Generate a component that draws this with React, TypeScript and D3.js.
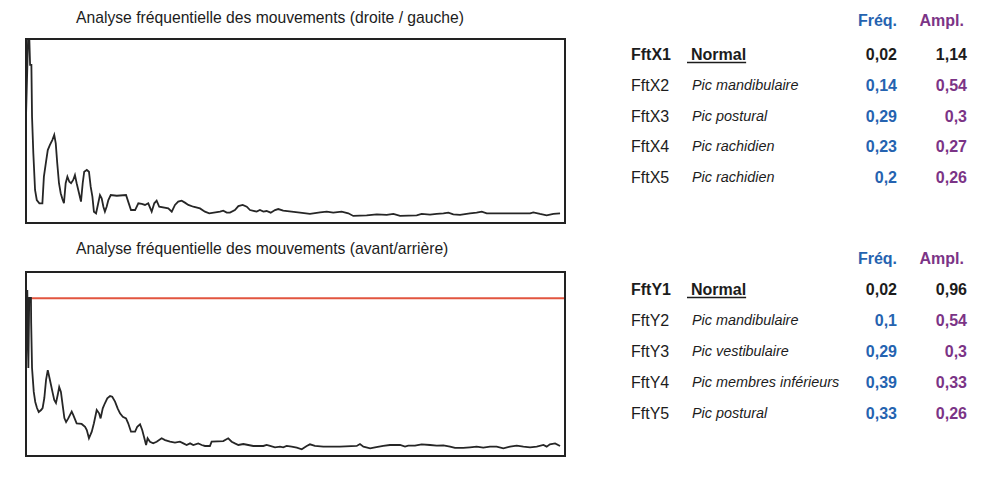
import * as d3 from 'd3';
import { useEffect, useRef } from 'react';

// FFT spectrum, left/right (X)
const freqX = [0, 0.01, 0.015, 0.019, 0.025, 0.028, 0.034, 0.042, 0.05, 0.062, 0.076, 0.083, 0.093, 0.101, 0.111, 0.122, 0.131, 0.138, 0.145, 0.153, 0.161, 0.168, 0.176, 0.184, 0.192, 0.201, 0.209, 0.219, 0.227, 0.235, 0.246, 0.255, 0.263, 0.27, 0.282, 0.292, 0.3, 0.308, 0.315, 0.325, 0.335, 0.343, 0.351, 0.359, 0.366, 0.374, 0.382, 0.393, 0.421, 0.464, 0.474, 0.487, 0.506, 0.521, 0.537, 0.552, 0.567, 0.583, 0.595, 0.606, 0.618, 0.66, 0.676, 0.691, 0.706, 0.722, 0.737, 0.753, 0.776, 0.807, 0.83, 0.85, 0.9, 0.915, 0.931, 0.946, 0.969, 0.985, 1.005, 1.024, 1.039, 1.07, 1.085, 1.101, 1.116, 1.135, 1.155, 1.17, 1.193, 1.271, 1.317, 1.364, 1.395, 1.425, 1.464, 1.495, 1.518, 1.58, 1.627, 1.673, 1.704, 1.735, 1.812, 1.835, 1.874, 1.905, 1.936, 1.959, 1.982, 2.013, 2.059, 2.09, 2.114, 2.137, 2.338, 2.353, 2.384, 2.415, 2.446, 2.477];
const ampX = [0.647, 1.14, 1.14, 0.962, 0.962, 0.647, 0.424, 0.201, 0.14, 0.12, 0.12, 0.282, 0.373, 0.444, 0.475, 0.505, 0.536, 0.485, 0.363, 0.242, 0.181, 0.15, 0.12, 0.242, 0.282, 0.251, 0.242, 0.262, 0.292, 0.242, 0.181, 0.13, 0.242, 0.312, 0.323, 0.312, 0.221, 0.16, 0.069, 0.059, 0.12, 0.17, 0.15, 0.099, 0.069, 0.099, 0.14, 0.17, 0.166, 0.17, 0.13, 0.079, 0.079, 0.12, 0.116, 0.11, 0.12, 0.069, 0.12, 0.136, 0.099, 0.089, 0.069, 0.11, 0.13, 0.136, 0.124, 0.11, 0.099, 0.089, 0.069, 0.059, 0.069, 0.075, 0.063, 0.063, 0.079, 0.103, 0.11, 0.099, 0.079, 0.069, 0.079, 0.069, 0.073, 0.063, 0.079, 0.085, 0.075, 0.063, 0.055, 0.065, 0.069, 0.063, 0.069, 0.059, 0.043, 0.047, 0.053, 0.049, 0.055, 0.043, 0.047, 0.055, 0.051, 0.055, 0.059, 0.063, 0.053, 0.049, 0.059, 0.063, 0.069, 0.059, 0.059, 0.065, 0.055, 0.047, 0.055, 0.059];

// FFT spectrum, front/back (Y)
const freqY = [0, 0.006, 0.011, 0.015, 0.023, 0.024, 0.028, 0.036, 0.043, 0.051, 0.059, 0.07, 0.077, 0.085, 0.093, 0.101, 0.108, 0.116, 0.124, 0.131, 0.139, 0.147, 0.154, 0.162, 0.17, 0.178, 0.186, 0.196, 0.212, 0.219, 0.235, 0.258, 0.274, 0.282, 0.292, 0.305, 0.315, 0.328, 0.339, 0.346, 0.356, 0.366, 0.377, 0.39, 0.4, 0.413, 0.425, 0.436, 0.449, 0.464, 0.474, 0.487, 0.506, 0.516, 0.529, 0.539, 0.549, 0.557, 0.564, 0.575, 0.59, 0.606, 0.629, 0.645, 0.668, 0.691, 0.714, 0.73, 0.745, 0.761, 0.776, 0.799, 0.815, 0.83, 0.853, 0.861, 0.915, 0.938, 0.954, 0.969, 0.985, 1.008, 1.031, 1.054, 1.101, 1.116, 1.132, 1.155, 1.178, 1.193, 1.209, 1.232, 1.256, 1.279, 1.302, 1.317, 1.34, 1.379, 1.456, 1.534, 1.549, 1.565, 1.596, 1.619, 1.657, 1.688, 1.735, 1.758, 1.773, 1.804, 1.835, 1.874, 1.905, 1.936, 1.967, 1.99, 2.028, 2.059, 2.09, 2.121, 2.152, 2.183, 2.214, 2.245, 2.276, 2.307, 2.338, 2.369, 2.4, 2.415, 2.43, 2.454, 2.477];
const ampY = [0.536, 1.01, 0.536, 0.962, 0.962, 0.81, 0.536, 0.39, 0.329, 0.292, 0.268, 0.28, 0.292, 0.353, 0.463, 0.523, 0.481, 0.432, 0.383, 0.341, 0.323, 0.371, 0.42, 0.39, 0.31, 0.231, 0.207, 0.229, 0.27, 0.25, 0.199, 0.195, 0.178, 0.158, 0.108, 0.148, 0.199, 0.28, 0.26, 0.229, 0.29, 0.321, 0.351, 0.365, 0.361, 0.331, 0.29, 0.26, 0.239, 0.229, 0.199, 0.148, 0.148, 0.178, 0.193, 0.158, 0.108, 0.067, 0.108, 0.087, 0.077, 0.087, 0.108, 0.097, 0.087, 0.081, 0.087, 0.077, 0.067, 0.077, 0.067, 0.077, 0.067, 0.061, 0.061, 0.087, 0.091, 0.108, 0.087, 0.077, 0.067, 0.073, 0.067, 0.061, 0.061, 0.067, 0.061, 0.053, 0.057, 0.053, 0.061, 0.057, 0.051, 0.041, 0.061, 0.071, 0.061, 0.057, 0.057, 0.061, 0.073, 0.057, 0.047, 0.053, 0.061, 0.067, 0.067, 0.057, 0.063, 0.063, 0.071, 0.067, 0.063, 0.065, 0.057, 0.049, 0.049, 0.053, 0.057, 0.051, 0.057, 0.057, 0.047, 0.057, 0.063, 0.057, 0.053, 0.057, 0.067, 0.057, 0.071, 0.077, 0.061];
const thresholdY = 0.96;

const titles = [
  'Analyse fréquentielle des mouvements (droite / gauche)',
  'Analyse fréquentielle des mouvements (avant/arrière)',
];

// result tables
const codesX = ['FftX1', 'FftX2', 'FftX3', 'FftX4', 'FftX5'];
const labelsX = ['Normal', 'Pic mandibulaire', 'Pic postural', 'Pic rachidien', 'Pic rachidien'];
const freqValsX = ['0,02', '0,14', '0,29', '0,23', '0,2'];
const amplValsX = ['1,14', '0,54', '0,3', '0,27', '0,26'];

const codesY = ['FftY1', 'FftY2', 'FftY3', 'FftY4', 'FftY5'];
const labelsY = ['Normal', 'Pic mandibulaire', 'Pic vestibulaire', 'Pic membres inférieurs', 'Pic postural'];
const freqValsY = ['0,02', '0,1', '0,29', '0,39', '0,33'];
const amplValsY = ['0,96', '0,54', '0,3', '0,33', '0,26'];

const FONT = "'Liberation Sans', Arial, sans-serif";
const BLUE = '#2563b0';
const PURPLE = '#7b3486';
const INK = '#1c1c1c';

const App: React.FC = () => {
  const ref = useRef<null | SVGSVGElement>(null);

  useEffect(() => {
    const svg = d3.select(ref.current);
    svg.selectAll('*').remove();

    const panels = [
      { top: 39, titleY: 23, headY: 26, rowY: 60, rowStep: 30.8, freq: freqX, amp: ampX, line: null, codes: codesX, labels: labelsX, fv: freqValsX, av: amplValsX },
      { top: 272, titleY: 254, headY: 264, rowY: 295, rowStep: 31, freq: freqY, amp: ampY, line: thresholdY, codes: codesY, labels: labelsY, fv: freqValsY, av: amplValsY },
    ];

    const left = 26;
    const right = 565;
    const boxH = 184;

    panels.forEach((p, i) => {
      const x = d3.scaleLinear().domain([0, 2.5]).range([left, right]);
      const y = d3.scaleLinear().domain([0, 1.12]).range([p.top + boxH, p.top]);

      svg
        .append('text')
        .attr('x', 76)
        .attr('y', p.titleY)
        .attr('font-family', FONT)
        .attr('font-size', 15.7)
        .attr('fill', INK)
        .text(titles[i]);

      const clipId = `clip-${i}`;
      svg
        .append('clipPath')
        .attr('id', clipId)
        .append('rect')
        .attr('x', left)
        .attr('y', p.top)
        .attr('width', right - left)
        .attr('height', boxH);

      const g = svg.append('g').attr('clip-path', `url(#${clipId})`);

      if (p.line !== null) {
        g.append('line')
          .attr('x1', left)
          .attr('x2', right)
          .attr('y1', y(p.line))
          .attr('y2', y(p.line))
          .attr('stroke', '#e2553f')
          .attr('stroke-width', 2);
      }

      const line = d3
        .line<number>()
        .x((_, k) => x(p.freq[k]))
        .y((d) => y(d));

      g.append('path')
        .attr('d', line(p.amp))
        .attr('fill', 'none')
        .attr('stroke', '#262626')
        .attr('stroke-width', 1.8)
        .attr('stroke-linejoin', 'miter');

      svg
        .append('rect')
        .attr('x', left)
        .attr('y', p.top)
        .attr('width', right - left)
        .attr('height', boxH)
        .attr('fill', 'none')
        .attr('stroke', '#222')
        .attr('stroke-width', 2);

      // table headers
      svg
        .append('text')
        .attr('x', 897)
        .attr('y', p.headY)
        .attr('text-anchor', 'end')
        .attr('font-family', FONT)
        .attr('font-weight', 'bold')
        .attr('font-size', 16)
        .attr('fill', BLUE)
        .text('Fréq.');
      svg
        .append('text')
        .attr('x', 964)
        .attr('y', p.headY)
        .attr('text-anchor', 'end')
        .attr('font-family', FONT)
        .attr('font-weight', 'bold')
        .attr('font-size', 16)
        .attr('fill', PURPLE)
        .text('Ampl.');

      p.codes.forEach((code, r) => {
        const by = p.rowY + r * p.rowStep;
        const first = r === 0;
        svg
          .append('text')
          .attr('x', 631)
          .attr('y', by)
          .attr('font-family', FONT)
          .attr('font-size', 16)
          .attr('font-weight', first ? 'bold' : 'normal')
          .attr('fill', INK)
          .text(code);

        const label = svg
          .append('text')
          .attr('x', first ? 691 : 692)
          .attr('y', first ? by : by - 1)
          .attr('font-family', FONT)
          .attr('font-size', first ? 16 : 14.4)
          .attr('font-weight', first ? 'bold' : 'normal')
          .attr('font-style', first ? 'normal' : 'italic')
          .attr('fill', INK)
          .text(p.labels[r]);

        if (first) {
          const w = (label.node() as SVGTextElement).getComputedTextLength();
          svg
            .append('line')
            .attr('x1', 687)
            .attr('x2', 691 + w)
            .attr('y1', by + 2.5)
            .attr('y2', by + 2.5)
            .attr('stroke', INK)
            .attr('stroke-width', 1.5);
        }

        svg
          .append('text')
          .attr('x', 897)
          .attr('y', by)
          .attr('text-anchor', 'end')
          .attr('font-family', FONT)
          .attr('font-size', 16)
          .attr('font-weight', 'bold')
          .attr('fill', first ? INK : BLUE)
          .text(p.fv[r]);
        svg
          .append('text')
          .attr('x', 967)
          .attr('y', by)
          .attr('text-anchor', 'end')
          .attr('font-family', FONT)
          .attr('font-size', 16)
          .attr('font-weight', 'bold')
          .attr('fill', first ? INK : PURPLE)
          .text(p.av[r]);
      });
    });
  }, []);

  return (
    <div style={{ position: 'absolute', left: 0, top: 0, background: '#fff' }}>
      <svg width={996} height={480} ref={ref} style={{ display: 'block' }} />
    </div>
  );
};

export default App;
